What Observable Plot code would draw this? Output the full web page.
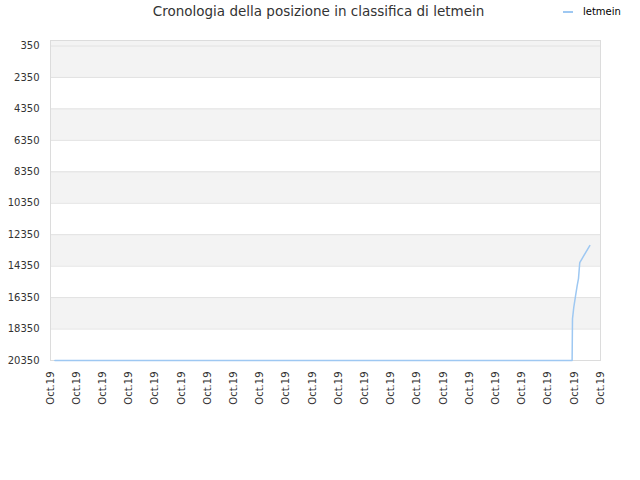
<!DOCTYPE html>
<html>
<head>
<meta charset="utf-8">
<script src="https://cdn.jsdelivr.net/npm/d3@7"></script>
<script src="https://cdn.jsdelivr.net/npm/@observablehq/plot@0.6"></script>
<style>
  body { margin: 0; background: #fff; font-family: "DejaVu Sans", sans-serif; }
  #header { position: relative; width: 640px; height: 26px; }
  #title { position: absolute; left: 0; width: 637px; top: 3px; text-align: center; font-size: 13.5px; color: #333; }
  #legend { position: absolute; left: 563px; top: 6px; font-size: 10px; color: #000; display: flex; align-items: center; }
  #legend .sw { width: 10px; height: 2px; background: #9ec8f2; margin-right: 10px; }
</style>
</head>
<body>
<div id="header">
  <div id="title">Cronologia della posizione in classifica di letmein</div>
  <div id="legend"><span class="sw"></span><span>letmein</span></div>
</div>
<div id="chart"></div>
<script>
const seriesName = "letmein";
const times = [
  "2019-10-01T04:00Z",
  "2019-10-20T22:00Z",
  "2019-10-20T22:20Z",
  "2019-10-20T23:30Z",
  "2019-10-21T01:10Z",
  "2019-10-21T02:40Z",
  "2019-10-21T03:50Z",
  "2019-10-21T05:00Z",
  "2019-10-21T14:10Z"
];
const positions = [20350, 20350, 17700, 16980, 16220, 15580, 15140, 14120, 13040];
const yTicks = [350, 2350, 4350, 6350, 8350, 10350, 12350, 14350, 16350, 18350, 20350];
const bandStarts = [0, 4350, 8350, 12350, 16350];
const bandEnds = [2350, 6350, 10350, 14350, 18350];
const xStart = new Date("2019-10-01T00:00Z");
const xEnd = new Date("2019-10-22T00:00Z");
const xTicks = d3.utcDay.range(xStart, new Date("2019-10-22T01:00Z"));

const data = times.map((t, i) => ({ date: new Date(t), pos: positions[i], name: seriesName }));
const bands = bandStarts.map((s, i) => ({ y1: s, y2: bandEnds[i] }));

const chart = Plot.plot({
  width: 640,
  height: 454,
  marginTop: 14,
  marginLeft: 50,
  marginRight: 40,
  marginBottom: 120,
  style: { fontFamily: "DejaVu Sans, sans-serif", fontSize: "10px", color: "#333", background: "#fff" },
  x: { type: "utc", domain: [xStart, xEnd] },
  y: { domain: [0, 20350], reverse: true },
  marks: [
    Plot.rect(bands, { x1: () => xStart, x2: () => xEnd, y1: "y1", y2: "y2", fill: "#f3f3f3" }),
    Plot.gridY(yTicks, { stroke: "#e2e2e2", strokeOpacity: 1 }),
    Plot.frame({ stroke: "#dcdcdc" }),
    Plot.axisY(yTicks, { tickSize: 0, tickPadding: 11, tickFormat: d => String(d), label: null, fill: "#333" }),
    Plot.axisX(xTicks, { tickSize: 0, tickPadding: 11, tickRotate: -90, tickFormat: d3.utcFormat("%b.%y"), label: null, fill: "#333" }),
    Plot.line(data, { x: "date", y: "pos", stroke: "#9ec8f2", strokeWidth: 1.5 })
  ]
});
document.getElementById("chart").appendChild(chart);
</script>
</body>
</html>
